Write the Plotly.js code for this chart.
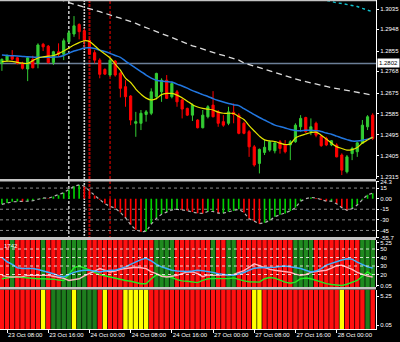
<!DOCTYPE html>
<html>
<head>
<meta charset="utf-8">
<script src="https://cdn.plot.ly/plotly-3.0.1.min.js"></script>
<style>html,body{margin:0;padding:0;background:#000;}#chart{width:400px;height:342px;}</style>
</head>
<body>
<div id="chart"></div>
<script>
// ---- hourly candles (index 0 = 23 Oct 07:00) ----
const open  = [1.2802,1.2816,1.2835,1.2826,1.2802,1.2778,1.2819,1.2802,1.2884,1.2876,1.2806,1.2852,1.2841,1.2895,1.2928,1.2969,1.2942,1.2902,1.2848,1.2816,1.2776,1.2752,1.2812,1.2760,1.2702,1.2662,1.2545,1.2545,1.2583,1.2588,1.2659,1.2680,1.2730,1.2659,1.2680,1.2645,1.2609,1.2580,1.2559,1.2526,1.2573,1.2623,1.2594,1.2552,1.2545,1.2592,1.2580,1.2545,1.2509,1.2444,1.2373,1.2420,1.2430,1.2427,1.2466,1.2452,1.2452,1.2466,1.2530,1.2570,1.2509,1.2545,1.2490,1.2480,1.2452,1.2452,1.2409,1.2337,1.2415,1.2423,1.2459,1.2530,1.2580];
const high  = [1.2824,1.2841,1.2859,1.2830,1.2809,1.2830,1.2835,1.2888,1.2890,1.2881,1.2856,1.2888,1.2909,1.2945,1.3005,1.2974,1.2952,1.2909,1.2859,1.2824,1.2781,1.2824,1.2816,1.2766,1.2730,1.2666,1.2594,1.2602,1.2602,1.2695,1.2762,1.2738,1.2752,1.2723,1.2688,1.2652,1.2612,1.2630,1.2562,1.2602,1.2623,1.2683,1.2602,1.2580,1.2616,1.2630,1.2588,1.2552,1.2516,1.2452,1.2437,1.2473,1.2473,1.2466,1.2473,1.2473,1.2473,1.2545,1.2580,1.2573,1.2566,1.2552,1.2494,1.2487,1.2473,1.2459,1.2416,1.2409,1.2444,1.2466,1.2559,1.2580,1.2588];
const low   = [1.2770,1.2809,1.2816,1.2798,1.2776,1.2726,1.2781,1.2781,1.2855,1.2802,1.2795,1.2830,1.2816,1.2888,1.2916,1.2905,1.2866,1.2838,1.2802,1.2738,1.2752,1.2745,1.2745,1.2656,1.2616,1.2537,1.2487,1.2516,1.2552,1.2580,1.2648,1.2637,1.2649,1.2652,1.2616,1.2566,1.2576,1.2555,1.2523,1.2523,1.2566,1.2571,1.2530,1.2530,1.2537,1.2545,1.2498,1.2498,1.2401,1.2359,1.2330,1.2409,1.2423,1.2416,1.2415,1.2416,1.2387,1.2461,1.2509,1.2504,1.2494,1.2485,1.2444,1.2447,1.2447,1.2399,1.2323,1.2330,1.2387,1.2401,1.2456,1.2516,1.2473];
const close = [1.2819,1.2835,1.2820,1.2802,1.2781,1.2826,1.2783,1.2881,1.2873,1.2805,1.2852,1.2841,1.2899,1.2933,1.2963,1.2938,1.2902,1.2841,1.2816,1.2755,1.2756,1.2816,1.2752,1.2695,1.2659,1.2559,1.2552,1.2588,1.2594,1.2680,1.2759,1.2730,1.2652,1.2716,1.2637,1.2606,1.2580,1.2623,1.2526,1.2580,1.2616,1.2573,1.2545,1.2537,1.2594,1.2583,1.2502,1.2502,1.2444,1.2366,1.2433,1.2442,1.2466,1.2461,1.2437,1.2423,1.2466,1.2537,1.2566,1.2509,1.2530,1.2494,1.2449,1.2452,1.2470,1.2401,1.2344,1.2401,1.2437,1.2461,1.2537,1.2573,1.2480];

// ---- moving averages on the price pane ----
const maBlue   = [1.2838,1.2836,1.2835,1.2834,1.2832,1.2830,1.2829,1.2828,1.2828,1.2828,1.2829,1.2830,1.2836,1.2846,1.2855,1.2861,1.2868,1.2869,1.2866,1.2859,1.2853,1.2845,1.2836,1.2828,1.2812,1.2797,1.2782,1.2767,1.2752,1.2739,1.2730,1.2726,1.2724,1.2722,1.2713,1.2705,1.2696,1.2685,1.2677,1.2668,1.2660,1.2651,1.2643,1.2636,1.2630,1.2625,1.2621,1.2608,1.2595,1.2582,1.2570,1.2559,1.2548,1.2537,1.2531,1.2525,1.2518,1.2514,1.2513,1.2515,1.2515,1.2513,1.2510,1.2503,1.2498,1.2490,1.2482,1.2475,1.2469,1.2469,1.2472,1.2477,1.2485];
const maYellow = [1.2810,1.2812,1.2811,1.2806,1.2803,1.2802,1.2814,1.2825,1.2830,1.2833,1.2836,1.2844,1.2855,1.2868,1.2881,1.2891,1.2899,1.2896,1.2878,1.2859,1.2842,1.2825,1.2799,1.2773,1.2739,1.2720,1.2692,1.2670,1.2653,1.2645,1.2651,1.2668,1.2673,1.2673,1.2666,1.2655,1.2640,1.2625,1.2615,1.2609,1.2606,1.2602,1.2593,1.2588,1.2588,1.2587,1.2574,1.2561,1.2535,1.2512,1.2490,1.2474,1.2469,1.2467,1.2460,1.2454,1.2456,1.2482,1.2492,1.2499,1.2505,1.2507,1.2494,1.2477,1.2460,1.2445,1.2437,1.2430,1.2432,1.2441,1.2460,1.2473,1.2485];
const maSlow   = [null,null,null,null,null,null,null,null,null,null,null,1.3078,1.3072,1.3063,1.3056,1.3050,1.3044,1.3039,1.3032,1.3024,1.3017,1.3009,1.3003,1.2996,1.2989,1.2983,1.2974,1.2964,1.2956,1.2947,1.2939,1.2931,1.2921,1.2913,1.2904,1.2894,1.2885,1.2877,1.2871,1.2863,1.2856,1.2849,1.2842,1.2836,1.2829,1.2824,1.2816,1.2804,1.2797,1.2790,1.2783,1.2775,1.2769,1.2762,1.2755,1.2748,1.2741,1.2735,1.2729,1.2724,1.2718,1.2713,1.2708,1.2703,1.2698,1.2694,1.2690,1.2685,1.2681,1.2677,1.2673,1.2669,1.2666];
const maCyan   = [null,null,null,null,null,null,null,null,null,null,null,null,null,null,null,null,null,null,null,null,null,null,null,null,null,null,null,null,null,null,null,null,null,null,null,null,null,null,null,null,null,null,null,null,null,null,null,null,null,null,null,null,null,null,null,null,null,null,null,null,null,null,1.3078,1.3072,1.3067,1.3062,1.3059,1.3055,1.3052,1.3046,1.3038,1.3031,1.3023];
const hLevel = 1.2802;
const priceTicks = [1.3035,1.2948,1.2855,1.2768,1.2675,1.2585,1.2495,1.2405,1.2315];

// ---- oscillator pane ----
const osc = [-8,-6,-4.5,-4,-4.2,-3.6,-3,-0.5,1,0.5,3.2,5,8.5,13,17.5,19.5,18,11,4.5,-1.4,-7,-11,-13.5,-19.5,-27,-37,-44,-46.8,-46.5,-36,-28,-22,-19,-16,-15,-15.8,-17,-19,-20.5,-20.9,-18.2,-18.2,-20.5,-20.5,-18.6,-17.3,-15,-19.5,-28.6,-31.8,-35.5,-34,-30.9,-25.5,-22.7,-20.9,-17.3,-12.7,-3.6,0,1.8,0.9,-1.8,-3.6,-3.6,-7.3,-12.7,-16.4,-14.1,-9.1,-1.4,5.5,7.7];
const oscLevels = [15,-15,-30,-45];
const oscTicks = [24.3,15,0,-15,-30,-45,-55.7];
const oscTickText = ['24.3','15','0.00','-15','-30','-45','-55.7'];

// ---- ADX-style pane ----
const adxBlue  = [40,35,32,28,27,27,27,26,24.5,23,21,18.5,17,20,22.5,24,25,25,24,23,24,25,25,27,29,32,35,37.5,39,36,32,29,27,25,24,23.5,23.5,24,25,24.5,23.8,22.5,21,20,19.5,19,20.5,22.3,25,27.5,28,28,28,28.5,29.3,30,29,28,27,25,23,24,27,31,33,35.5,37,38.5,38,34.5,31.5,29,27.7];
const adxPink  = [19,17.5,17,17,17.5,19,19,19,19,19,18,17,15.5,13,14,15,18.5,21,24,27,25,23,24,26,27,28,28.5,28,27,23,21,18,17,18,19,21,23,23,21,17.5,19.5,19,19,19.5,19.8,20,22,24.5,28.5,32.5,30.5,28,26,25,24.3,23.5,22.5,20.5,19,20,22.5,23.5,24.5,25,27.5,30.5,31,28.5,26,22.5,20,18.2,17];
const adxGreen = [15,16,17,17,16.5,15.5,15,15,15,15,14.5,13.5,13,20,28,30,28,25.5,22.5,20,18.5,17,15.5,14,13,12,10.5,9.2,9.2,15,19.5,19.5,18,16.5,14,12.5,12,11.1,10.5,13,15,15.3,15,15.1,15.1,16,14,12.5,11.5,11,11,15,16.5,15.8,13.5,11,9.8,11,15,15.8,15,13.1,11,9.2,8.3,7.5,7.1,8.5,10.5,13,18,23,19];
const adxLevels = [50,40,30,20];
const state3 = 'RRGRRRRRGRRRGGGGGRRRRRRRRRRRRRGGGGRRRRRRRGRRGGRRRRRRRRRRRGGGGRRRRRRRRRGGG'.split('');
// ---- signal pane ----
const state4 = 'RRRRRRRRYRGGGGYGGGGRYRRRYYYYYRRRRRRRRRRRRRRRRRRRRYYRRRRRRRRRRRRRRRYRRRRGR'.split('');
const sigTicks = [5.25,0.05];

// ---- time axis ----
const tickIdx  = [1,9,17,25,33,41,49,57,65];
const tickText = ['23 Oct 08:00','23 Oct 16:00','24 Oct 00:00','24 Oct 08:00','24 Oct 16:00','27 Oct 00:00','27 Oct 08:00','27 Oct 16:00','28 Oct 00:00'];
const vLines = [13,16,17,21];

const bars = open.map((_, i) => i);
const GREEN = '#33cc33', RED = '#ff0000';

const traces = [
  {type:'candlestick', x:bars, open:open, high:high, low:low, close:close, xaxis:'x', yaxis:'y',
   increasing:{line:{color:GREEN,width:1}, fillcolor:GREEN},
   decreasing:{line:{color:RED,width:1}, fillcolor:RED}, hoverinfo:'skip'},
  {type:'scatter', mode:'lines', x:bars, y:maSlow, xaxis:'x', yaxis:'y', line:{color:'#dcdcdc', width:1.3, dash:'6px,4px'}, hoverinfo:'skip'},
  {type:'scatter', mode:'lines', x:bars, y:maCyan, xaxis:'x', yaxis:'y', line:{color:'#10c0cc', width:1.4, dash:'dot'}, hoverinfo:'skip'},
  {type:'scatter', mode:'lines', x:bars, y:maBlue, xaxis:'x', yaxis:'y', line:{color:'#2277e0', width:1.5, shape:'spline'}, hoverinfo:'skip'},
  {type:'scatter', mode:'lines', x:bars, y:maYellow, xaxis:'x', yaxis:'y', line:{color:'#e6e600', width:1.2, shape:'spline'}, hoverinfo:'skip'},

  {type:'bar', x:bars, y:osc, xaxis:'x', yaxis:'y2', width:0.32,
   marker:{color: osc.map((v, i) => (i === 0 || v >= osc[i-1]) ? '#00d000' : RED), line:{width:0}}, hoverinfo:'skip'},
  {type:'scatter', mode:'lines', x:bars, y:osc, xaxis:'x', yaxis:'y2', line:{color:'#b0b0b0', width:1.2, dash:'dot'}, hoverinfo:'skip'},

  {type:'bar', x:bars, y:state3.map(() => 1), xaxis:'x', yaxis:'y3', width:0.86,
   marker:{color: state3.map(s => s === 'G' ? '#1f8a1f' : '#ff1010'), line:{width:0}}, hoverinfo:'skip'},
  {type:'scatter', mode:'lines', x:bars, y:adxGreen, xaxis:'x', yaxis:'y4', line:{color:'#22ee22', width:1.4}, hoverinfo:'skip'},
  {type:'scatter', mode:'lines', x:bars, y:adxPink, xaxis:'x', yaxis:'y4', line:{color:'#ffb6c1', width:1.4}, hoverinfo:'skip'},
  {type:'scatter', mode:'lines', x:bars, y:adxBlue, xaxis:'x', yaxis:'y4', line:{color:'#3cb0ff', width:1.5}, hoverinfo:'skip'},
  {type:'scatter', mode:'markers', x:[0], y:[1], xaxis:'x', yaxis:'y5', marker:{opacity:0}, hoverinfo:'skip'},

  {type:'bar', x:bars, y:state4.map(() => 1), xaxis:'x', yaxis:'y6', width:0.86,
   marker:{color: state4.map(s => s === 'G' ? '#1e7d1e' : (s === 'Y' ? '#ffff00' : '#ff1010')), line:{width:0}}, hoverinfo:'skip'},
  {type:'scatter', mode:'markers', x:[0], y:[1], xaxis:'x', yaxis:'y7', marker:{opacity:0}, hoverinfo:'skip'}
];

const tickFont = {family:'Liberation Sans, Arial, sans-serif', size:6, color:'#ffffff'};
function yax(extra) {
  return Object.assign({side:'right', anchor:'x', ticks:'outside', ticklen:2, tickcolor:'#ffffff',
    tickfont:tickFont, showgrid:false, zeroline:false, showline:true, linecolor:'#ffffff', linewidth:1, fixedrange:true}, extra);
}

const shapes = [];
// horizontal price level
shapes.push({type:'line', xref:'paper', x0:0, x1:1, yref:'y', y0:hLevel, y1:hLevel, layer:'below', line:{color:'#6c7f98', width:1.5}});
// vertical marker lines
const vStyles = [
  {color:'#ffffff', width:1.2, dash:'3px,2px'},
  {color:'#cfcfcf', width:1.6, dash:'2px,1px'},
  {color:'#b00000', width:2, dash:'3px,1px'},
  {color:'#ff0000', width:1, dash:'3px,2px'}
];
vLines.forEach((v, k) => shapes.push({type:'line', xref:'x', x0:v, x1:v, yref:'paper', y0:0.2736, y1:1, layer:'below', line:vStyles[k]}));
// oscillator levels
oscLevels.forEach(v => shapes.push({type:'line', xref:'paper', x0:0, x1:1, yref:'y2', y0:v, y1:v, layer:'below', line:{color:'#8a8a8a', width:1, dash:'3px,3px'}}));
// ADX levels
adxLevels.forEach(v => shapes.push({type:'line', xref:'paper', x0:0, x1:1, yref:'y4', y0:v, y1:v, layer:'above', line:{color:'#ffffff', width:0.8, dash:'3px,3px'}}));
// pane separators
[[0.44833,0.45593],[0.27052,0.27964],[0.12006,0.12766],[0.99635,1]].forEach(b =>
  shapes.push({type:'rect', xref:'paper', x0:0, x1:1, yref:'paper', y0:b[0], y1:b[1], layer:'above', fillcolor:'#c4c4c4', line:{width:0}}));

const layout = {
  width:400, height:342,
  margin:{l:0, r:24, t:0, b:13, pad:0},
  paper_bgcolor:'#000000', plot_bgcolor:'#000000',
  showlegend:false, barmode:'overlay', boxgap:0.4, hovermode:false,
  font:tickFont,
  xaxis:{range:[-0.37,72.64], anchor:'y6', domain:[0,1], tickvals:tickIdx, ticktext:tickText, tickangle:0,
    ticks:'outside', ticklen:3, tickcolor:'#ffffff', ticklabelposition:'outside right', tickfont:tickFont,
    showgrid:false, zeroline:false, showline:true, linecolor:'#ffffff', linewidth:1, automargin:false,
    rangeslider:{visible:false}, fixedrange:true},
  yaxis: yax({domain:[0.45593,1], range:[1.2306,1.3074], tickvals:priceTicks, ticktext:priceTicks.map(v => v.toFixed(4))}),
  yaxis2: yax({domain:[0.27660,0.44833], range:[-55.7,24.3], tickvals:oscTicks, ticktext:oscTickText}),
  yaxis3: yax({domain:[0.12766,0.27052], range:[0,1], showticklabels:false, ticks:''}),
  yaxis4: yax({overlaying:'y3', range:[5.3,60.6], tickvals:adxLevels, ticktext:adxLevels.map(String), showline:false}),
  yaxis5: yax({overlaying:'y3', range:[-0.074,5.6], tickvals:sigTicks, ticktext:['5.25','0.05'], showline:false}),
  yaxis6: yax({domain:[0,0.12006], range:[0,1], showticklabels:false, ticks:''}),
  yaxis7: yax({overlaying:'y6', range:[-0.667,6.416], tickvals:sigTicks, ticktext:['5.25','0.05'], showline:false}),
  shapes:shapes,
  annotations:[
    {xref:'paper', x:1, xanchor:'left', xshift:1, yref:'y', y:hLevel, yanchor:'middle', text:'1.2802', showarrow:false,
     bgcolor:'#ffffff', borderpad:1, font:{family:'Liberation Sans, Arial, sans-serif', size:6, color:'#000000'}},
    {xref:'paper', x:0.004, xanchor:'left', yref:'paper', y:0.2523, yanchor:'middle', text:'1742', showarrow:false,
     font:{family:'Liberation Sans, Arial, sans-serif', size:6, color:'#ffffff'}}
  ]
};

Plotly.newPlot('chart', traces, layout, {staticPlot:true, displayModeBar:false});
</script>
</body>
</html>
